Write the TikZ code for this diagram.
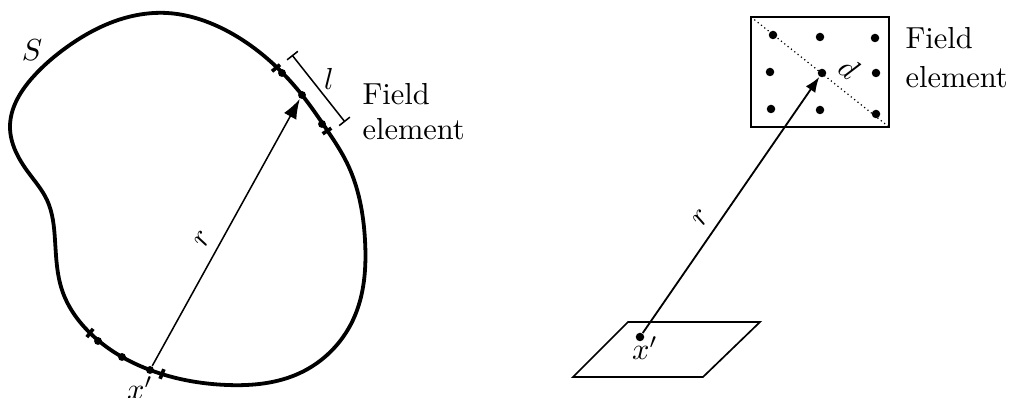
\documentclass[tikz,border=0pt]{standalone}
\usetikzlibrary{arrows.meta,hobby}
\begin{document}
\begin{tikzpicture}[x=0.3289pt,y=-0.3289pt,
  surf/.style={line width=1.25pt, line join=round},
  cdot/.style={circle, fill, inner sep=0pt, minimum size=2.6pt},
  gdot/.style={circle, fill, inner sep=0pt, minimum size=2.8pt},
  tickmark/.style={fill, inner sep=0pt, minimum width=1.2pt, minimum height=3.4pt},
  vecl/.style={line width=0.5pt, -{Latex[length=6.5pt,width=4.6pt]}},
  vecr/.style={line width=0.6pt, -{Latex[length=5pt,width=3.8pt]}},
  frame/.style={line width=0.65pt},
  diag/.style={line width=0.4pt, densely dotted},
  lbl/.style={inner sep=0pt}]
\useasboundingbox (0,0) rectangle (1011,398);

% ---------- left: closed surface S ----------
\draw[surf, use Hobby shortcut, closed=true]
  (167,13) .. (210,23) .. (247,43) .. (302,95) .. (327,130) .. (347,163)
  .. (365,240) .. (353,320) .. (300,373) .. (227,385) .. (150,370)
  .. (90,333) .. (62,290) .. (55,240) .. (47,200) .. (28,172) .. (10,127)
  .. (33,77) .. (67,47) .. (110,23);

\node[tickmark, rotate=-50] (t1) at (276,68) {};
\node[cdot] (f1) at (282,73) {};
\node[cdot] (f2) at (302,95) {};
\node[cdot] (f3) at (322,124) {};
\node[tickmark, rotate=-57] (t2) at (327,131) {};

\node[tickmark, rotate=-37] (t3) at (90,333) {};
\node[cdot] (s1) at (98,341) {};
\node[cdot] (s2) at (122,357) {};
\node[cdot] (xp) at (150,370) {};
\node[tickmark, rotate=-22] (t4) at (162,374) {};

\node[lbl] (S) at (32,50) {$S$};

\coordinate (la) at (292,55);
\coordinate (lb) at (345,122);
\draw[line width=0.5pt, {Bar[width=4.5pt]}-{Bar[width=4.5pt]}] (la) -- (lb);
\node[lbl] (l) at (329,79) {$l$};

\node[anchor=base west, inner sep=0pt] (fe1) at (362,105) {Field};
\node[anchor=base west, inner sep=0pt] (fe2) at (362,140) {element};

\draw[vecl] (xp) -- node[sloped, above, pos=0.446] {$r$} (f2);

\node[lbl, anchor=base] (xpl) at (140,400) {$x'$};

% ---------- right: field element grid ----------
\draw[frame] (751,17) rectangle (889,127);
\coordinate (dA) at (751,17);
\coordinate (dB) at (889,127);
\draw[diag] (dA) -- node[sloped, above, pos=0.614] {$d$} (dB);

\node[gdot] (e1) at (773,35) {};
\node[gdot] (e2) at (820,37) {};
\node[gdot] (e3) at (875,38) {};
\node[gdot] (e4) at (770,72) {};
\node[gdot] (e5) at (822,73) {};
\node[gdot] (e6) at (876,73) {};
\node[gdot] (e7) at (771,109) {};
\node[gdot] (e8) at (820,110) {};
\node[gdot] (e9) at (876,114) {};

\node[anchor=base west, inner sep=0pt] (fr1) at (905,49) {Field};
\node[anchor=base west, inner sep=0pt] (fr2) at (905,88) {element};

% source patch
\draw[line width=0.55pt] (628,322) -- (760,322) -- (703,377) -- (573,377) -- cycle;
\node[gdot] (xr) at (640,337) {};
\node[lbl, anchor=base] (xrl) at (645,360) {$x'$};

\draw[vecr] (xr) -- node[sloped, above, pos=0.412] {$r$} (e5);
\end{tikzpicture}
\end{document}
